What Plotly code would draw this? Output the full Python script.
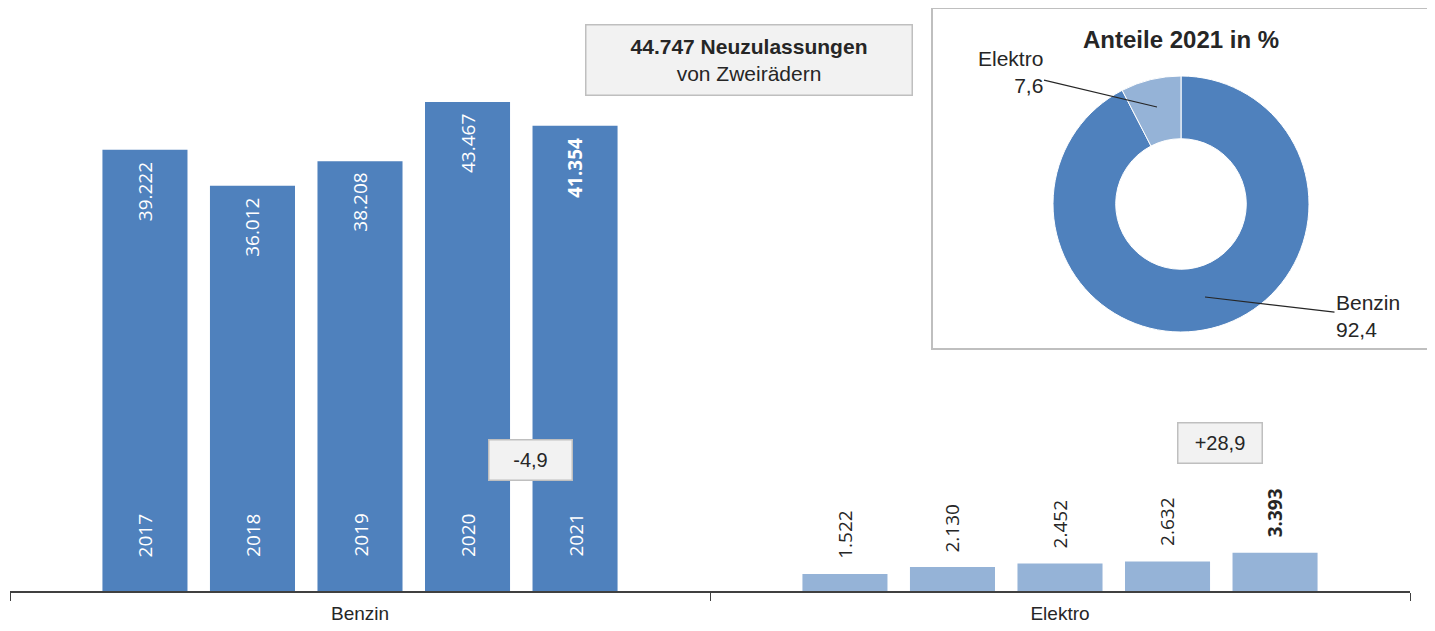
import plotly.graph_objects as go

# ---------------- data ----------------
categories = ["Benzin", "Elektro"]
years = ["2017", "2018", "2019", "2020", "2021"]
benzin = [39222, 36012, 38208, 43467, 41354]
elektro = [1522, 2130, 2452, 2632, 3393]
pie_labels = ["Benzin", "Elektro"]
pie_values = [92.4, 7.6]
pie_text = ["92,4", "7,6"]
change_benzin = "-4,9"
change_elektro = "+28,9"
total_text = "44.747"

# ---------------- styles ----------------
C_BENZIN = "#4F81BD"
C_ELEKTRO = "#95B3D7"
TXT = "#262626"
FONT = "Liberation Sans, Arial, sans-serif"
NUMFONT = "Open Sans, sans-serif"

OX, OY = 8, 8               # page offset of the figure (body margin)
W, H = 1427, 623
ML, MR, MT, MB = 2, 25, 2, 40
PW = W - ML - MR
PH = H - MT - MB
YMAX = PH * 43467 / 489.0

BARGAP = 0.232
GROUPGAP = 0.209
slot = PW / len(categories) * (1 - BARGAP) / len(years)


def de(n):
    return f"{n:,}".replace(",", ".")


def px(x):
    return (x - OX - ML) / PW


def py(y):
    return (H - MB - (y - OY)) / PH


fig = go.Figure()
for i, yr in enumerate(years):
    fig.add_trace(go.Bar(
        x=categories, y=[benzin[i], elektro[i]], name=yr,
        offsetgroup=str(i),
        marker=dict(color=[C_BENZIN, C_ELEKTRO], line=dict(width=0)),
        hoverinfo="x+y+name",
    ))

annotations = []
for i, yr in enumerate(years):
    off = (i - 2) * slot
    b = de(benzin[i])
    e = de(elektro[i])
    if i == len(years) - 1:
        b = f"<b>{b}</b>"
        e = f"<b>{e}</b>"
    annotations.append(dict(x="Benzin", y=benzin[i], xref="x", yref="y", xshift=off,
                            yshift=-10, xanchor="center", yanchor="top", text=b, textangle=-90,
                            showarrow=False, font=dict(family=NUMFONT, size=19, color="white")))
    annotations.append(dict(x="Benzin", y=0, xref="x", yref="y", xshift=off,
                            yshift=32, xanchor="center", yanchor="bottom", text=yr, textangle=-90,
                            showarrow=False, font=dict(family=NUMFONT, size=19, color="white")))
    annotations.append(dict(x="Elektro", y=elektro[i], xref="x", yref="y", xshift=off,
                            yshift=13, xanchor="center", yanchor="bottom", text=e, textangle=-90,
                            showarrow=False, font=dict(family=NUMFONT, size=19, color=TXT)))

box = dict(bgcolor="#F2F2F2", bordercolor="#BFBFBF", borderwidth=1.5, showarrow=False,
           xref="paper", yref="paper", xanchor="center", yanchor="middle")
annotations.append(dict(box, x=px(748.5), y=py(60), width=323, height=67, borderpad=1,
                        text=f"<b>{total_text} Neuzulassungen</b><br>von Zweirädern",
                        font=dict(family=FONT, size=21, color=TXT)))
annotations.append(dict(box, x=px(530.5), y=py(460), width=80, height=37,
                        text=change_benzin, font=dict(family=FONT, size=20, color=TXT)))
annotations.append(dict(box, x=px(1220), y=py(443), width=81, height=37,
                        text=change_elektro, font=dict(family=FONT, size=20, color=TXT)))

# pie title and labels
annotations.append(dict(x=px(1181), y=py(40), xref="paper", yref="paper", showarrow=False,
                        xanchor="center", yanchor="middle",
                        text="<b>Anteile 2021 in %</b>", font=dict(family=FONT, size=24, color=TXT)))
annotations.append(dict(x=px(1157), y=py(107), xref="paper", yref="paper", showarrow=True,
                        arrowhead=0, arrowwidth=1.2, arrowcolor=TXT, ax=-147, ay=-35,
                        text=f"{pie_labels[1]}<br>{pie_text[1]}", align="right",
                        font=dict(family=FONT, size=21, color=TXT)))
annotations.append(dict(x=px(1205), y=py(297), xref="paper", yref="paper", showarrow=True,
                        arrowhead=0, arrowwidth=1.2, arrowcolor=TXT, ax=163, ay=19,
                        text=f"{pie_labels[0]}<br>{pie_text[0]}", align="left",
                        font=dict(family=FONT, size=21, color=TXT)))

fig.add_trace(go.Pie(
    labels=pie_labels, values=pie_values, hole=0.51, sort=False,
    direction="clockwise", rotation=0,
    marker=dict(colors=[C_BENZIN, C_ELEKTRO], line=dict(color="white", width=1)),
    textinfo="none", showlegend=False,
    domain=dict(x=[px(1053), px(1309)], y=[py(332), py(76)]),
))

fig.update_layout(
    width=W, height=H,
    margin=dict(l=ML, r=MR, t=MT, b=MB),
    paper_bgcolor="white", plot_bgcolor="white",
    barmode="group", bargap=BARGAP, bargroupgap=GROUPGAP,
    showlegend=False,
    font=dict(family=FONT, color=TXT),
    xaxis=dict(type="category", range=[-0.5, 1.5], showline=True, linecolor="#404040",
               linewidth=2, ticks="outside", tickson="boundaries", ticklen=8,
               tickcolor="#404040", tickwidth=1, showgrid=False, zeroline=False,
               ticklabelstandoff=4,
               tickfont=dict(family=FONT, size=19, color=TXT)),
    yaxis=dict(visible=False, range=[0, YMAX], showgrid=False, zeroline=False),
    annotations=annotations,
    shapes=[
        dict(type="rect", xref="paper", yref="paper", x0=px(932), x1=px(1428),
             y0=py(349), y1=py(8), line=dict(color="#BFBFBF", width=2), fillcolor="rgba(0,0,0,0)",
             layer="below"),
    ],
)

fig.write_html("out.html")
